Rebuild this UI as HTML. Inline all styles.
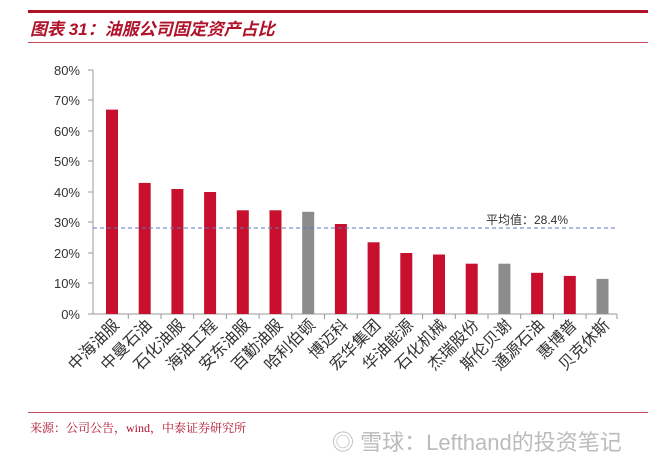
<!DOCTYPE html>
<html><head><meta charset="utf-8"><style>
body{margin:0;background:#fff;}
svg text{font-family:"Liberation Sans","Noto Sans CJK SC",sans-serif;}
</style></head><body>
<svg width="660" height="463" xmlns="http://www.w3.org/2000/svg">
<rect x="28" y="10" width="620" height="3" fill="#b0122a"/>
<text x="30" y="35" font-size="17" font-weight="bold" font-style="italic" fill="#b0122a">图表 31：油服公司固定资产占比</text>
<rect x="28" y="42" width="620" height="1" fill="#c44a5a"/>
<g font-size="13" fill="#333" text-anchor="end">
<text x="80" y="319">0%</text><text x="80" y="288">10%</text><text x="80" y="258">20%</text><text x="80" y="227">30%</text><text x="80" y="197">40%</text><text x="80" y="166">50%</text><text x="80" y="136">60%</text><text x="80" y="105">70%</text><text x="80" y="75">80%</text>
</g>
<g stroke="#999" stroke-width="1">
<line x1="93" y1="70" x2="93" y2="314"/>
<line x1="88" y1="70" x2="93" y2="70"/><line x1="88" y1="100" x2="93" y2="100"/><line x1="88" y1="131" x2="93" y2="131"/><line x1="88" y1="161" x2="93" y2="161"/><line x1="88" y1="192" x2="93" y2="192"/><line x1="88" y1="222" x2="93" y2="222"/><line x1="88" y1="253" x2="93" y2="253"/><line x1="88" y1="283" x2="93" y2="283"/><line x1="88" y1="314" x2="93" y2="314"/>
<line x1="93" y1="314" x2="617" y2="314"/>
<line x1="128.3" y1="314" x2="128.3" y2="319"/><line x1="161" y1="314" x2="161" y2="319"/><line x1="193.7" y1="314" x2="193.7" y2="319"/><line x1="226.4" y1="314" x2="226.4" y2="319"/><line x1="259.1" y1="314" x2="259.1" y2="319"/><line x1="291.8" y1="314" x2="291.8" y2="319"/><line x1="324.5" y1="314" x2="324.5" y2="319"/><line x1="357.2" y1="314" x2="357.2" y2="319"/><line x1="389.9" y1="314" x2="389.9" y2="319"/><line x1="422.6" y1="314" x2="422.6" y2="319"/><line x1="455.3" y1="314" x2="455.3" y2="319"/><line x1="488" y1="314" x2="488" y2="319"/><line x1="520.7" y1="314" x2="520.7" y2="319"/><line x1="553.4" y1="314" x2="553.4" y2="319"/><line x1="586.1" y1="314" x2="586.1" y2="319"/><line x1="617" y1="314" x2="617" y2="319"/>
</g>
<g fill="#c8102e">
<rect x="106" y="109.6" width="12" height="204.4"/>
<rect x="138.7" y="182.9" width="12" height="131.1"/>
<rect x="171.4" y="189" width="12" height="125"/>
<rect x="204.1" y="192" width="12" height="122"/>
<rect x="236.8" y="210.3" width="12" height="103.7"/>
<rect x="269.5" y="210.3" width="12" height="103.7"/>
<rect x="302.2" y="211.8" width="12" height="102.2" fill="#8c8c8c"/>
<rect x="334.9" y="224" width="12" height="90"/>
<rect x="367.6" y="242.3" width="12" height="71.7"/>
<rect x="400.3" y="253" width="12" height="61"/>
<rect x="433" y="254.5" width="12" height="59.5"/>
<rect x="465.7" y="263.7" width="12" height="50.3"/>
<rect x="498.4" y="263.7" width="12" height="50.3" fill="#8c8c8c"/>
<rect x="531.1" y="272.8" width="12" height="41.2"/>
<rect x="563.8" y="275.9" width="12" height="38.1"/>
<rect x="596.5" y="278.9" width="12" height="35.1" fill="#8c8c8c"/>
</g>
<line x1="93" y1="228" x2="617" y2="228" stroke="#5a7ab8" stroke-width="1" stroke-dasharray="4,3"/>
<text x="486" y="224" font-size="12" fill="#333">平均值：28.4%</text>
<g font-size="16" fill="#333" text-anchor="end" style="font-family:'Liberation Serif','Noto Serif CJK SC',serif">
<text transform="translate(120,326) rotate(-45)">中海油服</text>
<text transform="translate(152.7,326) rotate(-45)">中曼石油</text>
<text transform="translate(185.4,326) rotate(-45)">石化油服</text>
<text transform="translate(218.1,326) rotate(-45)">海油工程</text>
<text transform="translate(250.8,326) rotate(-45)">安东油服</text>
<text transform="translate(283.5,326) rotate(-45)">百勤油服</text>
<text transform="translate(316.2,326) rotate(-45)">哈利伯顿</text>
<text transform="translate(348.9,326) rotate(-45)">博迈科</text>
<text transform="translate(381.6,326) rotate(-45)">宏华集团</text>
<text transform="translate(414.3,326) rotate(-45)">华油能源</text>
<text transform="translate(447,326) rotate(-45)">石化机械</text>
<text transform="translate(479.7,326) rotate(-45)">杰瑞股份</text>
<text transform="translate(512.4,326) rotate(-45)">斯伦贝谢</text>
<text transform="translate(545.1,326) rotate(-45)">通源石油</text>
<text transform="translate(577.8,326) rotate(-45)">惠博普</text>
<text transform="translate(610.5,326) rotate(-45)">贝克休斯</text>
</g>
<rect x="28" y="412" width="620" height="1" fill="#c44a5a"/>
<text x="30" y="432" font-size="12" fill="#b0122a" style="font-family:'Liberation Serif','Noto Serif CJK SC',serif">来源：公司公告，wind，中泰证券研究所</text>
<text x="332" y="450" font-size="22" fill="#bbb">◎ 雪球：Lefthand的投资笔记</text>
</svg>
</body></html>
